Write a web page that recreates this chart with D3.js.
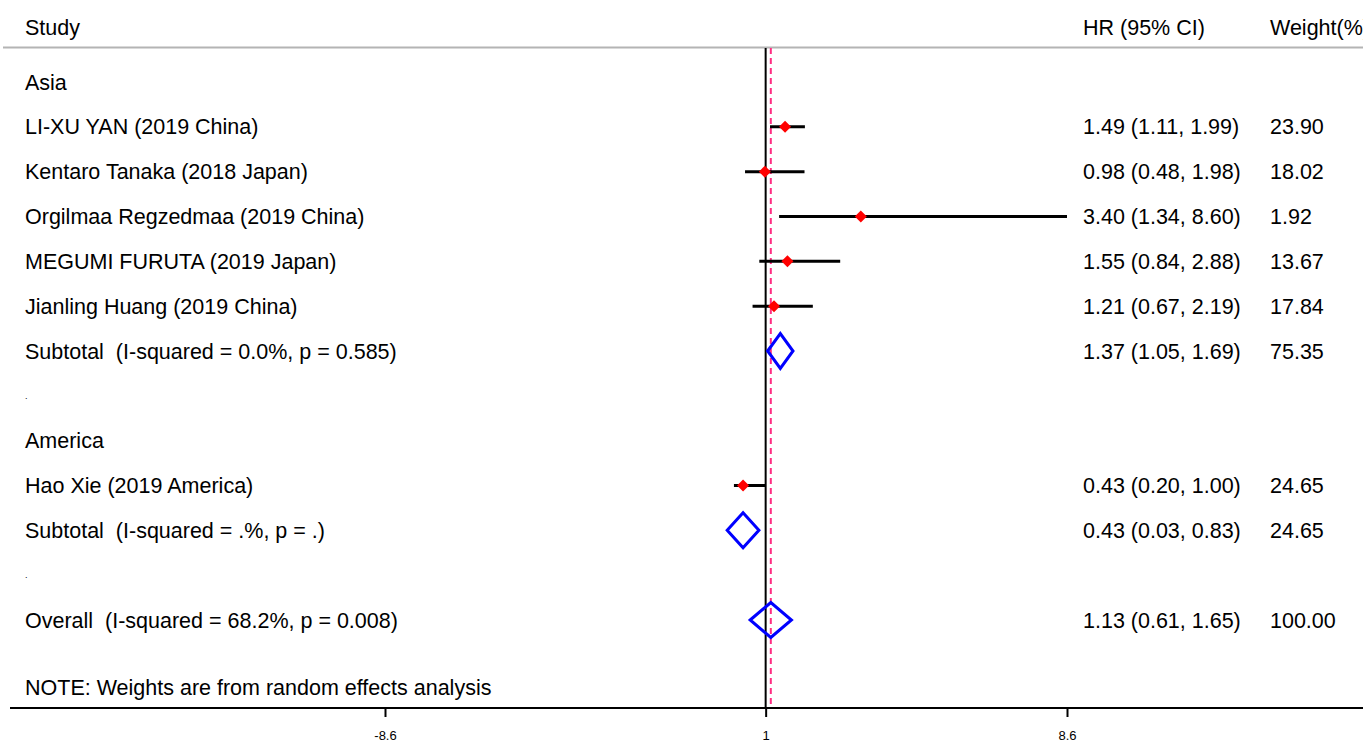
<!DOCTYPE html>
<html>
<head>
<meta charset="utf-8">
<script src="https://cdn.jsdelivr.net/npm/d3@7"></script>
<style>
  body { margin: 0; background: #fff; }
  svg { display: block; font-family: "Liberation Sans", Arial, sans-serif; }
  text { white-space: pre; }
</style>
</head>
<body>
<div id="chart-area"></div>
<script>
const WIDTH = 1363
const HEIGHT = 742
const FONT = "21.5px"

// Data
const rowLabels = [
    "Asia",
    "LI-XU YAN (2019 China)",
    "Kentaro Tanaka (2018 Japan)",
    "Orgilmaa Regzedmaa (2019 China)",
    "MEGUMI FURUTA (2019 Japan)",
    "Jianling Huang (2019 China)",
    "Subtotal  (I-squared = 0.0%, p = 0.585)",
    ".",
    "America",
    "Hao Xie (2019 America)",
    "Subtotal  (I-squared = .%, p = .)",
    ".",
    "Overall  (I-squared = 68.2%, p = 0.008)"
]
const rowType = ["group", "study", "study", "study", "study", "study", "pooled",
    "blank", "group", "study", "pooled", "blank", "pooled"]
const hr    = [null, 1.49, 0.98, 3.40, 1.55, 1.21, 1.37, null, null, 0.43, 0.43, null, 1.13]
const lower = [null, 1.11, 0.48, 1.34, 0.84, 0.67, 1.05, null, null, 0.20, 0.03, null, 0.61]
const upper = [null, 1.99, 1.98, 8.60, 2.88, 2.19, 1.69, null, null, 1.00, 0.83, null, 1.65]
const weights = ["", "23.90", "18.02", "1.92", "13.67", "17.84", "75.35", "", "", "24.65", "24.65", "", "100.00"]
const tickValues = [-8.6, 1, 8.6]
const overallHR = 1.13
const note = "NOTE: Weights are from random effects analysis"

const fmt = d3.format(".2f")

const svg = d3.select("#chart-area").append("svg")
    .attr("width", WIDTH)
    .attr("height", HEIGHT)

// Scales
const x = d3.scaleLinear()
    .domain([-8.6, 8.6])
    .range([385, 1067])

const y = d3.scalePoint()
    .domain(d3.range(rowLabels.length))
    .range([82, 620])

const AXIS_Y = 708
const rows = d3.range(rowLabels.length)

// Header
svg.append("text").attr("x", 25).attr("y", 27).attr("dy", "0.35em")
    .attr("font-size", FONT).text("Study")
svg.append("text").attr("x", 1083).attr("y", 27).attr("dy", "0.35em")
    .attr("font-size", FONT).text("HR (95% CI)")
svg.append("text").attr("x", 1270).attr("y", 27).attr("dy", "0.35em")
    .attr("font-size", FONT).text("Weight(%)")
svg.append("line")
    .attr("x1", 3).attr("x2", WIDTH)
    .attr("y1", 47.5).attr("y2", 47.5)
    .attr("stroke", "#b4b4b4").attr("stroke-width", 2)

// Null line and overall line
svg.append("line")
    .attr("x1", x(1)).attr("x2", x(1))
    .attr("y1", 48).attr("y2", AXIS_Y)
    .attr("stroke", "#000").attr("stroke-width", 2)
svg.append("line")
    .attr("x1", x(overallHR)).attr("x2", x(overallHR))
    .attr("y1", 48).attr("y2", AXIS_Y)
    .attr("stroke", "#ff2e82").attr("stroke-width", 2)
    .attr("stroke-dasharray", "6,4")

// Row labels
svg.selectAll(".label")
    .data(rows)
    .enter().append("text")
    .attr("class", "label")
    .attr("x", 25)
    .attr("y", i => y(i))
    .attr("dy", "0.35em")
    .attr("font-size", i => rowType[i] === "blank" ? "9px" : FONT)
    .text(i => rowLabels[i])

// HR and weight columns
const withVal = rows.filter(i => hr[i] !== null)
svg.selectAll(".hrtext")
    .data(withVal)
    .enter().append("text")
    .attr("x", 1083)
    .attr("y", i => y(i))
    .attr("dy", "0.35em")
    .attr("font-size", FONT)
    .text(i => `${fmt(hr[i])} (${fmt(lower[i])}, ${fmt(upper[i])})`)
svg.selectAll(".wtext")
    .data(withVal)
    .enter().append("text")
    .attr("x", 1270)
    .attr("y", i => y(i))
    .attr("dy", "0.35em")
    .attr("font-size", FONT)
    .text(i => weights[i])

// Study CIs and points
const studyRows = rows.filter(i => rowType[i] === "study")
svg.selectAll(".ci")
    .data(studyRows)
    .enter().append("line")
    .attr("x1", i => x(lower[i])).attr("x2", i => x(upper[i]))
    .attr("y1", i => y(i)).attr("y2", i => y(i))
    .attr("stroke", "#000").attr("stroke-width", 3)
svg.selectAll(".pt")
    .data(studyRows)
    .enter().append("path")
    .attr("transform", i => `translate(${x(hr[i])}, ${y(i)})`)
    .attr("d", "M0,-6L6,0L0,6L-6,0Z")
    .attr("fill", "#ff0000")

// Pooled diamonds
const pooledRows = rows.filter(i => rowType[i] === "pooled")
svg.selectAll(".diamond")
    .data(pooledRows)
    .enter().append("path")
    .attr("d", i => {
        const cy = y(i), h = 17.5
        return `M${x(lower[i])},${cy}L${x(hr[i])},${cy - h}L${x(upper[i])},${cy}L${x(hr[i])},${cy + h}Z`
    })
    .attr("fill", "none")
    .attr("stroke", "#0000ff")
    .attr("stroke-width", 3)

// Note
svg.append("text").attr("x", 25).attr("y", 687).attr("dy", "0.35em")
    .attr("font-size", FONT).text(note)

// X Axis
const xAxisCall = d3.axisBottom(x)
    .tickValues(tickValues)
    .tickFormat(d => d)
    .tickSize(9)
    .tickPadding(14)
const xAxis = svg.append("g")
    .attr("transform", `translate(0, ${AXIS_Y})`)
    .call(xAxisCall)
xAxis.select(".domain").remove()
xAxis.append("line")
    .attr("x1", 10).attr("x2", WIDTH)
    .attr("stroke", "#000").attr("stroke-width", 2)
xAxis.selectAll(".tick line").attr("stroke-width", 2)
xAxis.selectAll(".tick text")
    .attr("font-family", "Liberation Sans, Arial, sans-serif")
    .attr("font-size", "13px")
    .attr("fill", "#000")
</script>
</body>
</html>
